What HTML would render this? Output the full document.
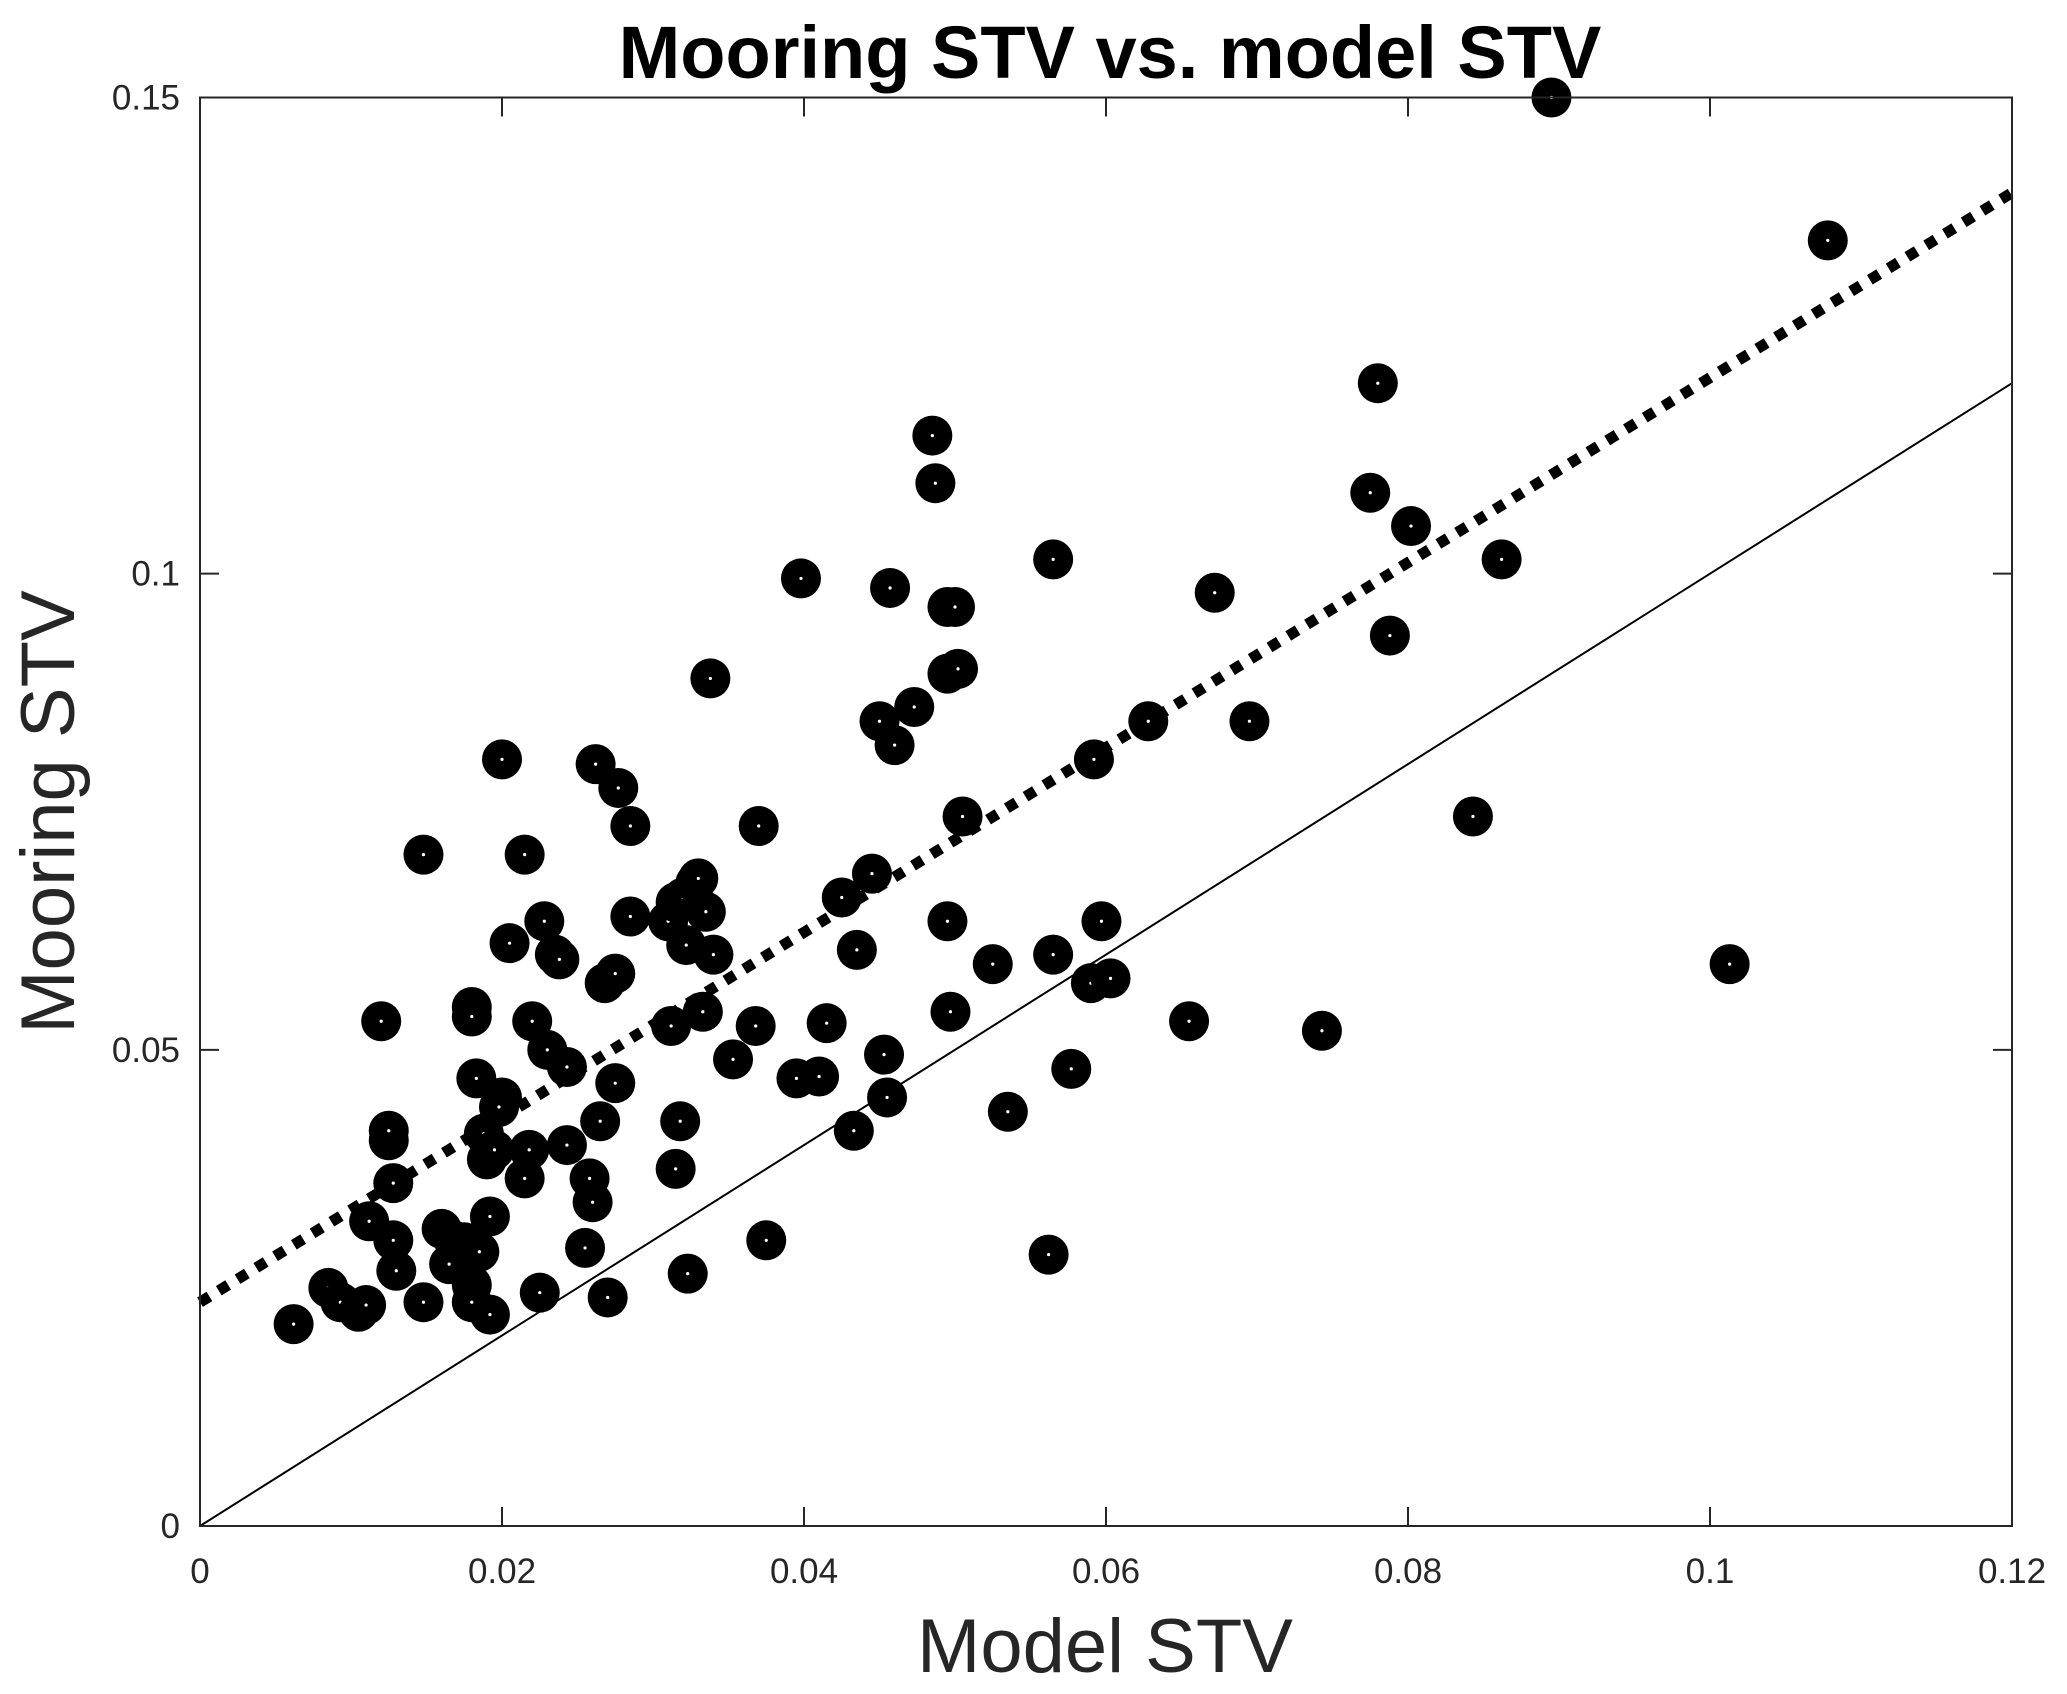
<!DOCTYPE html>
<html><head><meta charset="utf-8"><style>
body{margin:0;background:#fff}
svg{display:block;font-family:"Liberation Sans",Arial,sans-serif}
</style></head><body>
<svg id="chart" width="2067" height="1694" viewBox="0 0 2067 1694" xmlns="http://www.w3.org/2000/svg">
<rect width="2067" height="1694" fill="#fff"/>
<text x="1110" y="78" text-anchor="middle" font-size="74" font-weight="bold" fill="#000">Mooring STV vs. model STV</text>
<text x="1105" y="1672" text-anchor="middle" font-size="76" fill="#262626">Model STV</text>
<text x="0" y="0" text-anchor="middle" font-size="76" fill="#262626" transform="translate(74 812) rotate(-90)">Mooring STV</text>
<g id="ticks"></g>
<g id="lines"></g>
<g id="points"></g>
<rect x="200" y="97.5" width="1812" height="1428.5" fill="none" stroke="#262626" stroke-width="2"/>
</svg>
<script>
const xTicks=[0,0.02,0.04,0.06,0.08,0.1,0.12];
const xTickLabels=["0","0.02","0.04","0.06","0.08","0.1","0.12"];
const yTicks=[0,0.05,0.1,0.15];
const yTickLabels=["0","0.05","0.1","0.15"];
const modelSTV=[0.0062,0.0085,0.0093,0.0105,0.011,0.0112,0.0128,0.013,0.0148,0.0125,0.0125,0.012,0.0128,0.0148,0.016,0.0168,0.0175,0.0165,0.018,0.018,0.0185,0.0192,0.0192,0.018,0.018,0.0183,0.0188,0.019,0.0195,0.02,0.0198,0.02,0.0205,0.0215,0.0218,0.0215,0.022,0.0225,0.0228,0.023,0.0235,0.0238,0.0243,0.0243,0.0255,0.0258,0.026,0.0262,0.0265,0.0268,0.027,0.0275,0.0277,0.0275,0.0285,0.0285,0.031,0.0312,0.0315,0.0315,0.0318,0.032,0.0322,0.0323,0.0328,0.033,0.0333,0.0335,0.0338,0.034,0.0353,0.0368,0.037,0.0375,0.0395,0.0398,0.041,0.0415,0.0425,0.0433,0.0435,0.0445,0.045,0.0453,0.0455,0.0457,0.046,0.0473,0.0485,0.0487,0.0495,0.0495,0.0495,0.0497,0.05,0.0502,0.0505,0.0525,0.0535,0.0562,0.0565,0.0565,0.0577,0.059,0.0592,0.0597,0.0603,0.0628,0.0655,0.0672,0.0695,0.0743,0.0775,0.078,0.0788,0.0802,0.0843,0.0862,0.1013,0.1078,0.0895];
const mooringSTV=[0.0212,0.025,0.0235,0.0225,0.0232,0.032,0.03,0.0268,0.0235,0.0405,0.0415,0.053,0.036,0.0705,0.0312,0.03,0.0298,0.0275,0.0253,0.0235,0.0288,0.0222,0.0325,0.0545,0.0535,0.047,0.0412,0.0385,0.0395,0.045,0.044,0.0805,0.0612,0.0705,0.0395,0.0365,0.053,0.0245,0.0635,0.05,0.06,0.0595,0.0482,0.04,0.0292,0.0365,0.034,0.08,0.0425,0.057,0.024,0.0465,0.0775,0.058,0.0735,0.064,0.0635,0.0525,0.0655,0.0375,0.0425,0.066,0.061,0.0265,0.0675,0.068,0.054,0.0645,0.089,0.06,0.049,0.0525,0.0735,0.03,0.047,0.0995,0.0472,0.0528,0.066,0.0415,0.0605,0.0685,0.0845,0.0495,0.045,0.0985,0.082,0.086,0.1145,0.1095,0.0965,0.0895,0.0635,0.054,0.0965,0.09,0.0745,0.059,0.0435,0.0285,0.1015,0.06,0.048,0.057,0.0805,0.0635,0.0575,0.0845,0.053,0.098,0.0845,0.052,0.1085,0.12,0.0935,0.105,0.0745,0.1015,0.059,0.135,0.15];
const fitLine=[[0,0.0235],[0.12,0.140]];
const oneToOne=[[0,0],[0.12,0.12]];

const NS="http://www.w3.org/2000/svg";
const X0=200,X1=2012,Y0=1526,Y1=97.5;
function sx(v){return X0+(v-0)/(0.12-0)*(X1-X0);}
function sy(v){return Y0-(v-0)/(0.15-0)*(Y0-Y1);}
function mk(tag,attrs,parent){const e=document.createElementNS(NS,tag);for(const k in attrs)e.setAttribute(k,attrs[k]);parent.appendChild(e);return e;}
const tg=document.getElementById('ticks');
xTicks.forEach((t,i)=>{
  const x=sx(t);
  const a=mk('line',{x1:x,x2:x,y1:Y0,y2:Y0-19,stroke:'#262626','stroke-width':2},tg);
  
  
  const b=mk('line',{x1:x,x2:x,y1:Y1,y2:Y1+19,stroke:'#262626','stroke-width':2},tg);
  
  
  const l=mk('text',{x:x,y:1583,'text-anchor':'middle','font-size':35,fill:'#262626'},tg);
  l.textContent=xTickLabels[i];
  
  
});
yTicks.forEach((t,i)=>{
  const y=sy(t);
  const a=mk('line',{x1:X0,x2:X0+19,y1:y,y2:y,stroke:'#262626','stroke-width':2},tg);
  
  
  const b=mk('line',{x1:X1,x2:X1-19,y1:y,y2:y,stroke:'#262626','stroke-width':2},tg);
  
  
  const l=mk('text',{x:180,y:y+12,'text-anchor':'end','font-size':35,fill:'#262626'},tg);
  l.textContent=yTickLabels[i];
  
  
});
const lg=document.getElementById('lines');
const ol=mk('line',{x1:sx(oneToOne[0][0]),y1:sy(oneToOne[0][1]),x2:sx(oneToOne[1][0]),y2:sy(oneToOne[1][1]),stroke:'#000','stroke-width':2},lg);


const fl=mk('line',{x1:sx(fitLine[0][0]),y1:sy(fitLine[0][1]),x2:sx(fitLine[1][0]),y2:sy(fitLine[1][1]),stroke:'#000','stroke-width':11,'stroke-dasharray':'11 11'},lg);


const pg=document.getElementById('points');
modelSTV.forEach((xv,i)=>{
  const cx=sx(xv),cy=sy(mooringSTV[i]);
  const c=mk('circle',{cx:cx,cy:cy,r:20,fill:'#000'},pg);
  
  
  const d=mk('circle',{cx:cx,cy:cy,r:1.6,fill:'#fff'},pg);
  
  
});
</script>
</body></html>
